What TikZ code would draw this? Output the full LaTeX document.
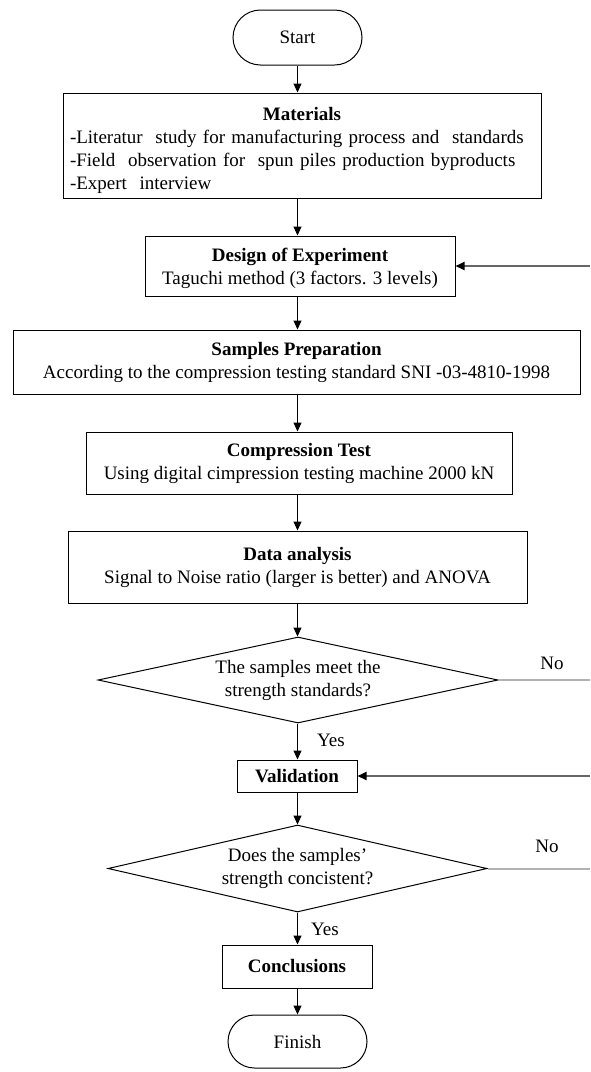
\documentclass[tikz,border=0pt]{standalone}
\usepackage{fontspec}
\setmainfont{Liberation Serif}
\usetikzlibrary{arrows.meta,shapes.geometric,shapes.misc}
\begin{document}
\begin{tikzpicture}[x=1pt,y=-1pt,
  font=\fontsize{19}{23}\selectfont,
  box/.style={draw, line width=1pt, inner sep=0pt, align=center},
  term/.style={draw, line width=1pt, rounded rectangle, inner sep=0pt},
  dec/.style={draw, line width=1pt, diamond, inner sep=0pt, align=center},
  arr/.style={-{Triangle[length=9pt,width=8pt,color=black]}, line width=1pt},
  fb/.style={-{Triangle[length=9pt,width=8pt,color=black]}, line width=1.8pt, draw=black!60},
  nol/.style={line width=2pt, draw=black!30},
  lbl/.style={inner sep=0pt},
]
\useasboundingbox[fill=white] (0,0) rectangle (590,1072);

\node[term, minimum width=129pt, minimum height=55pt] (start) at (297.5,37.5) {Start};
\node[box, minimum width=478pt, minimum height=105pt, text width=464pt, align=left, inner xsep=7pt] (mat) at (302,145.5)
  {\makebox[\linewidth]{\rule{0pt}{23pt}\textbf{Materials}}\\
   -Literatur\ \ study for manufacturing process and\ \ standards\\
   -Field\ \ observation for\ \ spun piles production byproducts\\
   -Expert\ \ interview};
\node[box, minimum width=310pt, minimum height=60pt] (doe) at (300,266)
  {\rule{0pt}{19pt}\textbf{Design of Experiment}\\Taguchi method (3 factors. 3 levels)};
\node[box, minimum width=567pt, minimum height=64pt] (sp) at (296.5,362)
  {\textbf{Samples Preparation}\\According to the compression testing standard SNI -03-4810-1998};
\node[box, minimum width=426pt, minimum height=62pt] (ct) at (299,463)
  {\textbf{Compression Test}\\Using digital cimpression testing machine 2000 kN};
\node[box, minimum width=459pt, minimum height=72pt] (da) at (297.5,567)
  {\textbf{Data analysis}\\Signal to Noise ratio (larger is better) and ANOVA};
\node[dec, aspect=4.65, minimum width=400pt, minimum height=86pt] (d1) at (298,680)
  {The samples meet the\\strength standards?};
\node[box, minimum width=120pt, minimum height=32pt] (val) at (297,776) {\textbf{Validation}};
\node[dec, aspect=4.36, minimum width=379pt, minimum height=87pt] (d2) at (297.5,868.5)
  {Does the samples'\\strength concistent?};
\node[box, minimum width=150pt, minimum height=43pt] (con) at (297,966.5) {\textbf{Conclusions}};
\node[term, minimum width=139pt, minimum height=53pt] (fin) at (297.5,1041.5) {Finish};

\draw[arr] (start) -- (start |- mat.north);
\draw[arr] (start |- mat.south) -- (start |- doe.north);
\draw[arr] (start |- doe.south) -- (start |- sp.north);
\draw[arr] (start |- sp.south) -- (start |- ct.north);
\draw[arr] (start |- ct.south) -- (start |- da.north);
\draw[arr] (start |- da.south) -- (start |- d1.north);
\draw[arr] (d1.south -| start) -- (start |- val.north);
\draw[arr] (start |- val.south) -- (start |- d2.north);
\draw[arr] (d2.south -| start) -- (start |- con.north);
\draw[arr] (start |- con.south) -- (fin);

\coordinate (f1) at (590,266);
\coordinate (f2) at (590,776);
\coordinate (n1) at (590,680);
\coordinate (n2) at (590,868.5);
\draw[fb] (f1) -- (doe);
\draw[fb] (f2) -- (val);
\draw[nol] (d1.east) -- (n1);
\draw[nol] (d2.east) -- (n2);

\node[lbl] (no1) at (552,663) {No};
\node[lbl] (no2) at (547,846) {No};
\node[lbl] (yes1) at (331,740) {Yes};
\node[lbl] (yes2) at (325,929) {Yes};
\end{tikzpicture}
\end{document}
